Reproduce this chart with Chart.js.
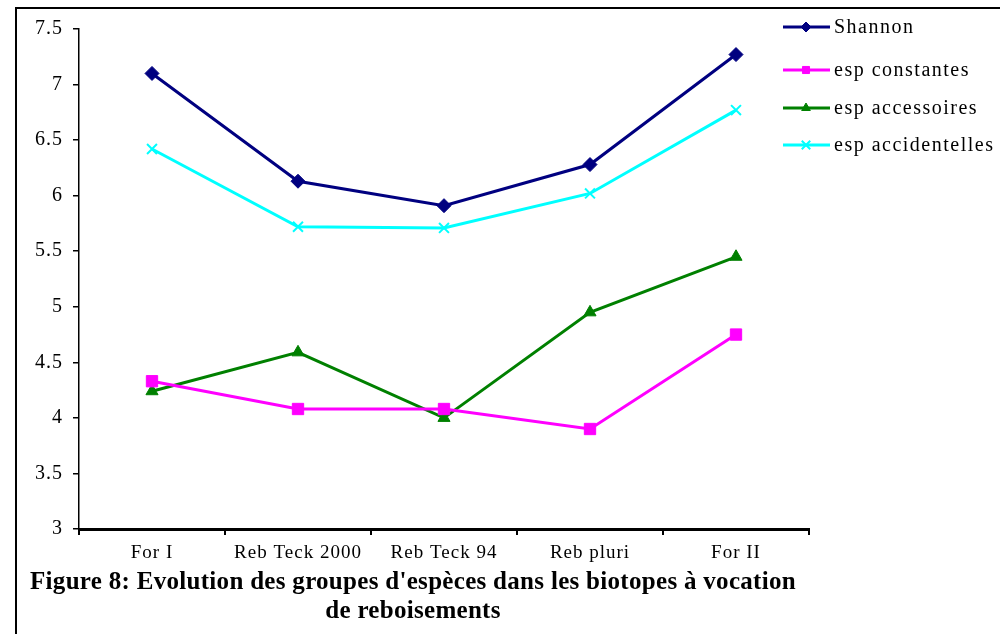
<!DOCTYPE html>
<html>
<head>
<meta charset="utf-8">
<script src="https://cdn.jsdelivr.net/npm/chart.js@4"></script>
<style>
  html, body { margin: 0; padding: 0; background: #fff; }
  #wrap { width: 1000px; height: 634px; position: relative; }
</style>
</head>
<body>
<div id="wrap"><canvas id="chartGroupes" width="1000" height="634"></canvas></div>
<script>
const biotopes = ["For I", "Reb Teck 2000", "Reb Teck 94", "Reb pluri", "For II"]
const shannon = [7.1, 6.13, 5.91, 6.28, 7.27]
const espConstantes = [4.33, 4.08, 4.08, 3.90, 4.75]
const espAccessoires = [4.24, 4.59, 4.0, 4.95, 5.45]
const espAccidentelles = [6.42, 5.72, 5.71, 6.02, 6.77]
const yTicks = [3, 3.5, 4, 4.5, 5, 5.5, 6, 6.5, 7, 7.5]
const titre = ["Figure 8: Evolution des groupes d'espèces dans les biotopes à vocation", "de reboisements"]

const serif = "'Liberation Serif', 'DejaVu Serif', serif"

// espacement des lettres facon Excel pour les textes des axes
const espacement = {
  id: 'espacement',
  beforeDraw(chart) {
    chart.ctx.letterSpacing = '1px'
  },
  afterDatasetsDraw(chart) {
    chart.ctx.letterSpacing = '0px'
  }
}

// legende style Excel : trait + marqueur
const legendeExcel = {
  id: 'legendeExcel',
  afterDraw(chart) {
    const ctx = chart.ctx
    ctx.save()
    // cadre
    ctx.strokeStyle = '#000'
    ctx.lineWidth = 2
    ctx.beginPath()
    ctx.moveTo(16, 634)
    ctx.lineTo(16, 8)
    ctx.lineTo(1000, 8)
    ctx.stroke()

    chart.data.datasets.forEach((ds, i) => {
      const y = [27, 70, 108, 145][i]
      ctx.strokeStyle = ds.borderColor
      ctx.fillStyle = ds.borderColor
      ctx.lineWidth = 3
      ctx.beginPath()
      ctx.moveTo(783, y)
      ctx.lineTo(830, y)
      ctx.stroke()
      ctx.lineWidth = ds.pointStyle === 'crossRot' ? 2 : 1
      Chart.helpers.drawPoint(ctx, {
        pointStyle: ds.pointStyle,
        radius: ds.pointStyle === 'crossRot' ? 6 : 5,
        rotation: 0,
        borderWidth: ctx.lineWidth
      }, 806, y)
      ctx.fillStyle = '#000'
      ctx.letterSpacing = '1.5px'
      ctx.font = "20px " + serif
      ctx.textBaseline = 'middle'
      ctx.textAlign = 'left'
      ctx.fillText(ds.label, 834, y + 1)
    })

    // titre de la figure
    ctx.fillStyle = '#000'
    ctx.letterSpacing = '0.3px'
    ctx.font = "bold 25px " + serif
    ctx.textAlign = 'center'
    ctx.textBaseline = 'middle'
    ctx.fillText(titre[0], 413, 583)
    ctx.fillText(titre[1], 413, 612)
    ctx.letterSpacing = '0px'
    ctx.restore()
  }
}

function serie(label, data, couleur, style, rayon) {
  return {
    label: label,
    data: data,
    borderColor: couleur,
    backgroundColor: couleur,
    pointBackgroundColor: couleur,
    pointBorderColor: couleur,
    borderWidth: 3,
    pointStyle: style,
    pointRadius: rayon,
    pointHoverRadius: rayon,
    pointBorderWidth: style === 'crossRot' ? 2 : 1,
    tension: 0
  }
}

const data = {
  labels: biotopes,
  datasets: [
    serie("Shannon", shannon, '#000080', 'rectRot', 7),
    serie("esp constantes", espConstantes, '#FF00FF', 'rect', 8),
    serie("esp accessoires", espAccessoires, '#008000', 'triangle', 7),
    serie("esp accidentelles", espAccidentelles, '#00FFFF', 'crossRot', 7)
  ]
}

const config = {
  type: 'line',
  data: data,
  options: {
    responsive: false,
    animation: false,
    layout: { padding: { left: 0, right: 191, top: 29, bottom: 0 } },
    plugins: {
      legend: { display: false },
      title: { display: false },
      tooltip: { enabled: false }
    },
    scales: {
      x: {
        offset: true,
        grid: { display: true, drawOnChartArea: false, drawTicks: true, tickLength: 6, color: '#000', lineWidth: 2, offset: true },
        border: { display: true, color: '#000', width: 3 },
        ticks: { color: '#000', font: { family: serif, size: 19 }, padding: 7, maxRotation: 0 },
        afterFit(scale) { scale.height = 105 }
      },
      y: {
        min: 3,
        max: 7.5,
        afterBuildTicks(scale) { scale.ticks = yTicks.map(v => ({ value: v })) },
        grid: { display: true, drawOnChartArea: false, drawTicks: true, tickLength: 6, color: '#000', lineWidth: 1.5 },
        border: { display: true, color: '#000', width: 1.5 },
        ticks: { color: '#000', font: { family: serif, size: 20 }, padding: 10, callback: v => String(v) },
        afterFit(scale) { scale.width = 79 }
      }
    }
  },
  plugins: [espacement, legendeExcel]
}

const myChart = new Chart(document.getElementById('chartGroupes'), config)
</script>
</body>
</html>
